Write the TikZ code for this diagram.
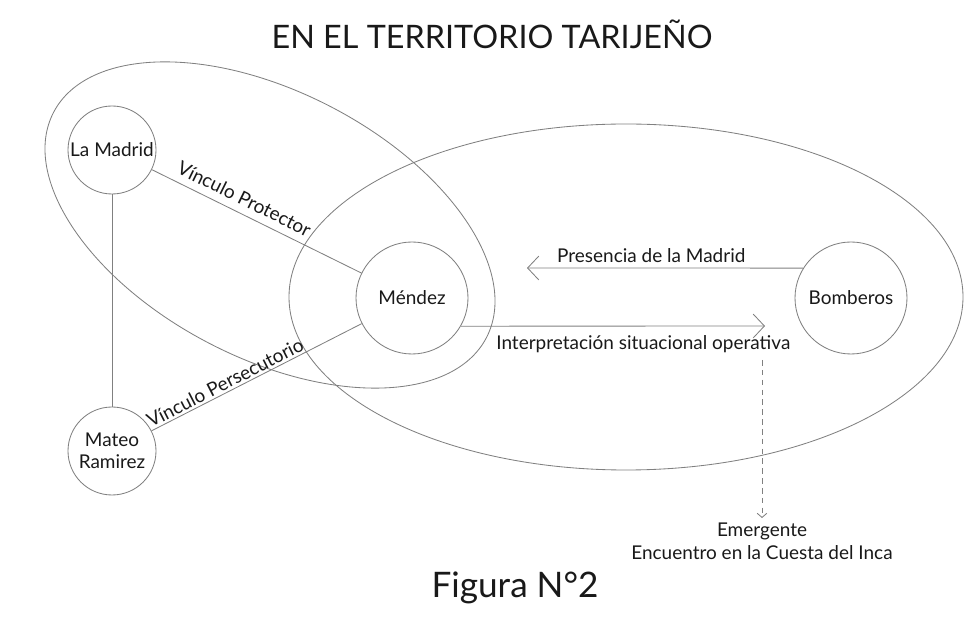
\documentclass[tikz,border=0pt]{standalone}
\usepackage{fontspec}
\setmainfont{Lato}
\usepackage{tikz}
\usetikzlibrary{arrows.meta}

\begin{document}
\begin{tikzpicture}[
    line/.style={black!50, line width=0.6pt},
    actor/.style={circle, draw=black!50, line width=0.6pt, minimum size=2.2cm, inner sep=0pt,
      align=center, font=\fontsize{13.5}{16}\selectfont, text=black!90},
    big/.style={actor, minimum size=2.8cm},
    tag/.style={font=\fontsize{13.5}{16}\selectfont, text=black!90},
    flow/.style={line, -{Straight Barb[length=8pt,width=17pt]}},
  ]
  \useasboundingbox (0,0) rectangle (24.5,-15.975);
  \node[anchor=base, font=\fontsize{23}{27}\selectfont, text=black!90] (title) at (12.3,-1.225)
    {EN EL TERRITORIO TARIJEÑO};
  % the two fields
  \draw[line, rotate around={-27.5:(6.75,-5.625)}] (6.75,-5.625) ellipse (6.1cm and 3.325cm);
  \draw[line] (15.65,-7.425) ellipse (8.425cm and 4.325cm);
  % actors
  \node[actor] (madrid) at (2.8,-3.75) {La Madrid};
  \node[actor] (mateo) at (2.8,-11.275) {Mateo\\Ramirez};
  \node[big] (mendez) at (10.3,-7.45) {Méndez};
  \node[big] (bomberos) at (21.275,-7.45) {Bomberos};
  % links
  \draw[line] (madrid) -- (mateo);
  \draw[line] (madrid) -- node[tag, sloped, above=2pt, pos=0.41] (protector) {Vínculo Protector} (mendez);
  \draw[line] (mateo) -- node[tag, sloped, above, pos=0.37, inner sep=1.5pt] (persecutor) {Vínculo Persecutorio} (mendez);
  \coordinate (presEnd) at (13.175,-6.7);
  \draw[flow] (bomberos.148) -- node[tag, above, pos=0.55] (presencia) {Presencia de la Madrid} (presEnd);
  \coordinate (interpEnd) at (19.125,-8.15);
  \draw[flow] (mendez.-30) -- node[tag, below=3pt, pos=0.6] (interp) {Interpretación situacional operativa} (interpEnd);
  % the emergent
  \coordinate (emStart) at (19.05,-9.0);
  \node[tag, anchor=north, align=center] (emergente) at (19.05,-12.95)
    {Emergente\\Encuentro en la Cuesta del Inca};
  \draw[line, dash pattern=on 4pt off 3pt, -{Straight Barb[length=3pt,width=7pt]}] (emStart) -- (emergente.north);
  \node[anchor=base, font=\fontsize{25}{30}\selectfont, text=black!90] (figura) at (12.875,-14.95) {Figura N°2};
\end{tikzpicture}
\end{document}
